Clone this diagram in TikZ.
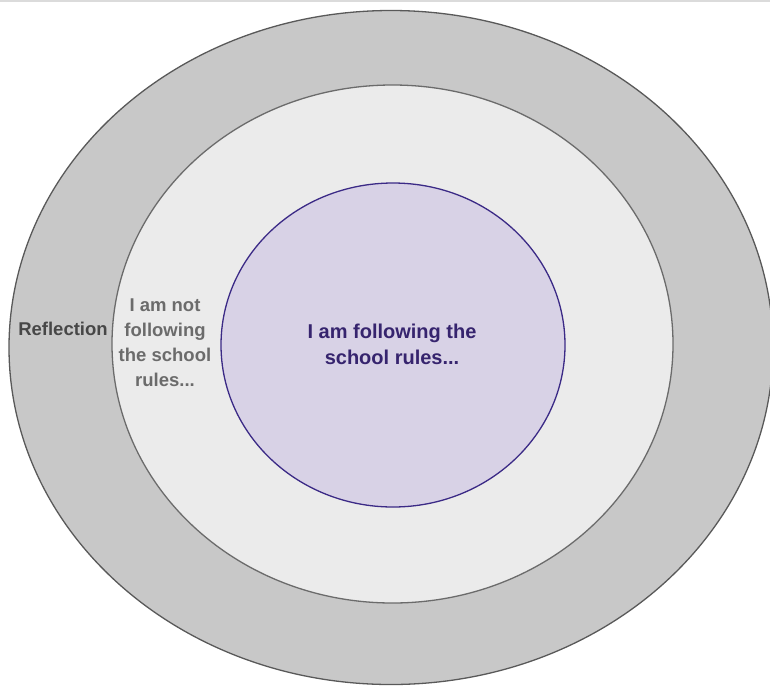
\documentclass[tikz,border=0pt]{standalone}
\usepackage{fontspec}
\setmainfont{Liberation Sans}
\usetikzlibrary{shapes.geometric}

\definecolor{ringdark}{HTML}{C8C8C8}
\definecolor{ringlight}{HTML}{EBEBEB}
\definecolor{corefill}{HTML}{D8D2E6}
\definecolor{coreline}{HTML}{3B2A86}
\definecolor{coretext}{HTML}{36246E}

\tikzset{
  ring/.style={ellipse, inner sep=0pt, line width=1.3pt},
  label/.style={align=center, font=\bfseries\fontsize{18.5}{25}\selectfont}
}

\begin{document}
\begin{tikzpicture}[x=1pt,y=-1pt]
    \useasboundingbox (0,0) rectangle (770,686);
    \draw[line width=2pt, color=black!14] (0,1) -- (770,1);

    \node[ring, draw=black!65, fill=ringdark, minimum width=764pt,
    minimum height=674pt] (outer) at (391,347.5) {};
    \node[ring, draw=black!58, fill=ringlight, minimum width=561pt,
    minimum height=518pt] (middle) at (392.5,344) {};
    \node[ring, draw=coreline, fill=corefill, minimum width=344pt,
    minimum height=324pt] (core) at (393,345) {};

    \node[label, text=coretext, font=\bfseries\fontsize{20}{26}\selectfont]
    (following) at (392,344) {I am following the\\school rules...};
    \node[label, text=black!58] (notfollowing) at (165,343) {I am not\\following\\the school\\rules...};
    \node[label, text=black!72] (reflection) at (63,329) {Reflection};
  \end{tikzpicture}
\end{document}
